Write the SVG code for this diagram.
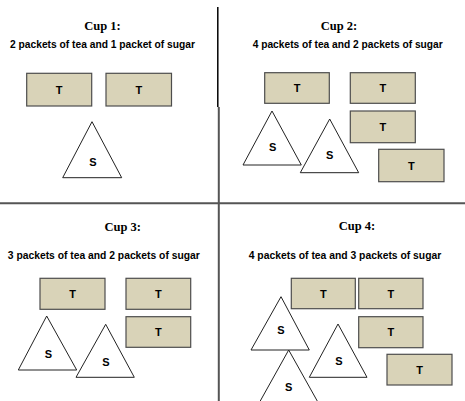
<svg xmlns="http://www.w3.org/2000/svg" width="465" height="401" viewBox="0 0 465 401">
<style>
.cup{font-family:"Liberation Serif",serif;font-weight:bold;font-size:12.5px;fill:#000;text-anchor:middle}
.desc{font-family:"Liberation Sans",Arial,sans-serif;font-weight:bold;font-size:11.5px;fill:#000;text-anchor:middle}
.lbl{font-family:"Liberation Sans",Arial,sans-serif;font-weight:bold;font-size:11px;fill:#000;text-anchor:middle}
.tea{fill:#d9d3b8;stroke:#4d4d4d;stroke-width:1.2}
.sug{fill:#fff;stroke:#222;stroke-width:1}
</style>
<rect width="465" height="401" fill="#fff"/>
<g id="dividers">
<line x1="217.8" y1="7" x2="217.8" y2="107" stroke="#000" stroke-width="1.5"/>
<line x1="218.8" y1="107" x2="218.8" y2="401" stroke="#555" stroke-width="2"/>
<line x1="0" y1="203.3" x2="465" y2="203.3" stroke="#555" stroke-width="2"/>
</g>
<g id="cup1">
<text class="cup" x="102.5" y="30">Cup 1:</text>
<text class="desc" x="102.5" y="47.5" textLength="185" lengthAdjust="spacingAndGlyphs">2 packets of tea and 1 packet of sugar</text>
<g id="c1t1"><rect class="tea" x="26.7" y="73.3" width="65" height="32.7"/><text class="lbl" x="59.2" y="93.5">T</text></g>
<g id="c1t2"><rect class="tea" x="106" y="73.3" width="65.5" height="32.7"/><text class="lbl" x="138.8" y="93.5">T</text></g>
<g id="c1s1"><polygon class="sug" points="92,121.7 62.7,177.7 121.7,177.7"/><text class="lbl" x="93" y="165.5">S</text></g>
</g>
<g id="cup2">
<text class="cup" x="339" y="29.5">Cup 2:</text>
<text class="desc" x="347.7" y="47.5" textLength="190" lengthAdjust="spacingAndGlyphs">4 packets of tea and 2 packets of sugar</text>
<g id="c2t1"><rect class="tea" x="264.7" y="72.7" width="64.6" height="30.6"/><text class="lbl" x="297" y="92">T</text></g>
<g id="c2t2"><rect class="tea" x="350.3" y="72.7" width="65" height="30.6"/><text class="lbl" x="382.8" y="92">T</text></g>
<g id="c2t3"><rect class="tea" x="350.3" y="111" width="65" height="31.7"/><text class="lbl" x="382.8" y="130.5">T</text></g>
<g id="c2t4"><rect class="tea" x="378.7" y="149.3" width="65.3" height="32.4"/><text class="lbl" x="411.3" y="169.5">T</text></g>
<g id="c2s1"><polygon class="sug" points="272,111 243,165 301.3,165"/><text class="lbl" x="272.7" y="150.5">S</text></g>
<g id="c2s2"><polygon class="sug" points="329.7,119 300.3,172.7 358.7,172.7"/><text class="lbl" x="329.7" y="159">S</text></g>
</g>
<g id="cup3">
<text class="cup" x="122.7" y="231">Cup 3:</text>
<text class="desc" x="103.8" y="258.5" textLength="192" lengthAdjust="spacingAndGlyphs">3 packets of tea and 2 packets of sugar</text>
<g id="c3t1"><rect class="tea" x="40" y="278.3" width="65" height="31"/><text class="lbl" x="72.5" y="298">T</text></g>
<g id="c3t2"><rect class="tea" x="126" y="278.3" width="64.7" height="31"/><text class="lbl" x="158.3" y="298">T</text></g>
<g id="c3t3"><rect class="tea" x="126" y="316.7" width="64.7" height="30.6"/><text class="lbl" x="158.3" y="336">T</text></g>
<g id="c3s1"><polygon class="sug" points="46.7,316 18.3,370 76.7,370"/><text class="lbl" x="48.3" y="358">S</text></g>
<g id="c3s2"><polygon class="sug" points="105.7,324.3 76,377.3 134.3,377.3"/><text class="lbl" x="106" y="365.5">S</text></g>
</g>
<g id="cup4">
<text class="cup" x="357" y="229.5">Cup 4:</text>
<text class="desc" x="345" y="258.5" textLength="192.5" lengthAdjust="spacingAndGlyphs">4 packets of tea and 3 packets of sugar</text>
<g id="c4t1"><rect class="tea" x="291.3" y="278.3" width="64" height="30.4"/><text class="lbl" x="323.3" y="297.5">T</text></g>
<g id="c4t2"><rect class="tea" x="358.7" y="278.3" width="64.3" height="30.4"/><text class="lbl" x="390.8" y="297.5">T</text></g>
<g id="c4t3"><rect class="tea" x="358.7" y="316.7" width="64.3" height="31"/><text class="lbl" x="390.8" y="336">T</text></g>
<g id="c4t4"><rect class="tea" x="387" y="354.3" width="65" height="30.7"/><text class="lbl" x="419.5" y="374">T</text></g>
<g id="c4s1"><polygon class="sug" points="281,296.7 251,350 309.3,350"/><text class="lbl" x="281" y="334">S</text></g>
<g id="c4s2"><polygon class="sug" points="288.7,350 258,405 319.5,405"/><text class="lbl" x="288.7" y="390.5">S</text></g>
<g id="c4s3"><polygon class="sug" points="338,324 309.3,377.3 367,377.3"/><text class="lbl" x="339" y="364.5">S</text></g>
</g>
</svg>
